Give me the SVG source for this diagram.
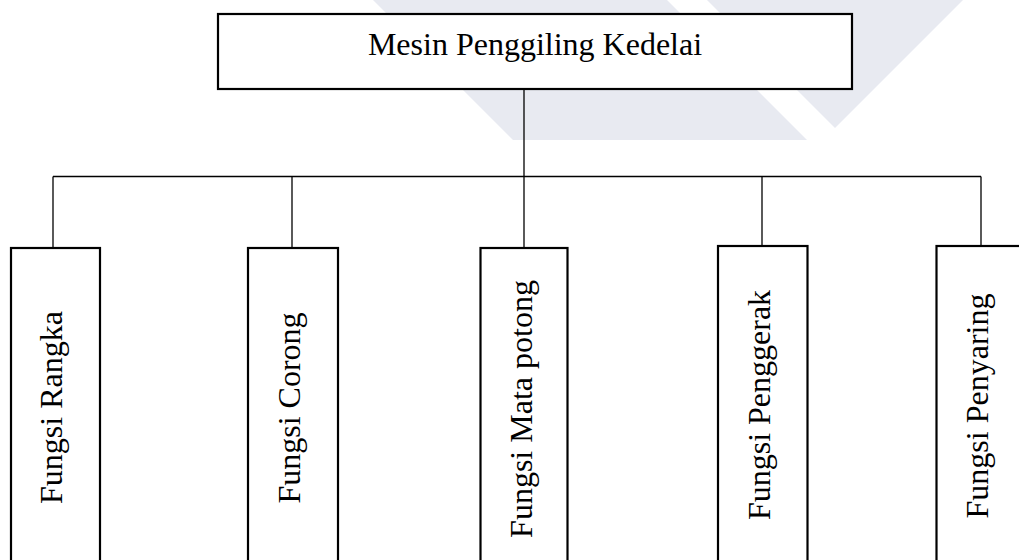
<svg xmlns="http://www.w3.org/2000/svg" width="1019" height="560" viewBox="0 0 1019 560">
  <style>
    .box { fill: #ffffff; stroke: #000000; stroke-width: 2.2; }
    .conn { fill: none; stroke: #000000; stroke-width: 1.3; }
    .lbl { font-family: "Liberation Serif", "Times New Roman", serif; font-size: 32px; fill: #000000; }
    .wm { fill: #e8eaf1; stroke: none; }
  </style>
  <rect x="0" y="0" width="1019" height="560" fill="#ffffff"/>
  <g id="watermark">
    <polygon class="wm" points="373,0 667,0 807,140 513,140"/>
    <polygon class="wm" points="707,0 963,0 835,128"/>
  </g>
  <g id="connectors">
    <line class="conn" x1="524" y1="89" x2="524" y2="248"/>
    <line class="conn" x1="53" y1="176.5" x2="981" y2="176.5"/>
    <line class="conn" x1="53" y1="176.5" x2="53" y2="248"/>
    <line class="conn" x1="292" y1="176.5" x2="292" y2="248"/>
    <line class="conn" x1="762" y1="176.5" x2="762" y2="246"/>
    <line class="conn" x1="981" y1="176.5" x2="981" y2="246"/>
  </g>
  <g id="node-root">
    <rect class="box" x="218" y="14" width="634" height="75"/>
    <text class="lbl" x="535" y="55" text-anchor="middle">Mesin Penggiling Kedelai</text>
  </g>
  <g id="node-rangka">
    <rect class="box" x="11" y="248" width="89" height="340"/>
    <text class="lbl" text-anchor="middle" transform="translate(61.5,407.5) rotate(-90)">Fungsi Rangka</text>
  </g>
  <g id="node-corong">
    <rect class="box" x="248" y="248" width="90" height="340"/>
    <text class="lbl" text-anchor="middle" transform="translate(300,408) rotate(-90)">Fungsi Corong</text>
  </g>
  <g id="node-mata-potong">
    <rect class="box" x="480.5" y="248" width="87" height="340"/>
    <text class="lbl" text-anchor="middle" transform="translate(531.5,409) rotate(-90)">Fungsi Mata potong</text>
  </g>
  <g id="node-penggerak">
    <rect class="box" x="718" y="246" width="89.5" height="340"/>
    <text class="lbl" text-anchor="middle" transform="translate(770,405) rotate(-90)">Fungsi Penggerak</text>
  </g>
  <g id="node-penyaring">
    <rect class="box" x="936.5" y="246" width="90" height="340"/>
    <text class="lbl" text-anchor="middle" transform="translate(988,406) rotate(-90)">Fungsi Penyaring</text>
  </g>
</svg>
